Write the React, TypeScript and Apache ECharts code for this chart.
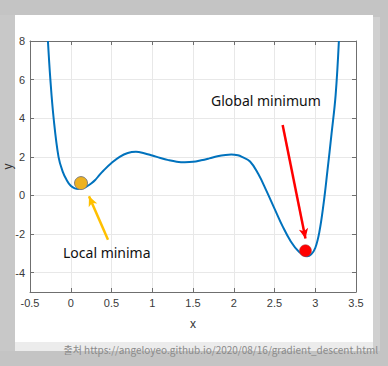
import React, { useEffect, useRef } from "react";
import * as echarts from "echarts";

// curve
const curveX = [-0.28, -0.25, -0.21, -0.15, -0.1, -0.05, 0.0, 0.05, 0.1, 0.15, 0.2, 0.25, 0.3, 0.35, 0.4, 0.5, 0.6, 0.7, 0.8, 0.9, 1.0, 1.1, 1.2, 1.3, 1.4, 1.5, 1.6, 1.7, 1.8, 1.9, 1.97, 2.05, 2.1, 2.2, 2.3, 2.4, 2.5, 2.6, 2.7, 2.8, 2.9, 2.95, 3.0, 3.05, 3.1, 3.15, 3.2, 3.25, 3.29];
const curveY = [8.0, 6.0, 4.0, 2.0, 1.25, 0.8, 0.5, 0.37, 0.34, 0.38, 0.48, 0.62, 0.8, 1.05, 1.28, 1.68, 2.0, 2.2, 2.26, 2.19, 2.07, 1.94, 1.83, 1.75, 1.72, 1.74, 1.82, 1.92, 2.03, 2.1, 2.12, 2.08, 2.0, 1.76, 1.12, 0.25, -0.68, -1.6, -2.38, -2.92, -3.15, -3.05, -2.72, -1.9, -0.5, 1.3, 3.2, 5.2, 8.0];

const localMinPoint = [0.126, 0.64];
const globalMinPoint = [2.88, -2.86];

const localArrow = [[0.457, -2.3], [0.224, -0.04]];
const globalArrow = [[2.6, 3.65], [2.88, -2.23]];

const localLabel = "Local minima";
const globalLabel = "Global minimum";
const xName = "x";
const yName = "y";
const caption = "출처 https://angeloyeo.github.io/2020/08/16/gradient_descent.html";

const X_MIN = -0.5, X_MAX = 3.5, X_STEP = 0.5;
const Y_MIN = -4, Y_MAX = 8, Y_STEP = 2;

export default function App() {
  const ref = useRef<HTMLDivElement>(null);
  useEffect(() => {
    if (!ref.current) return;
    const chart = echarts.init(ref.current, null, { renderer: "svg" });
    const axisColor = "#6f6f6f";
    const labelStyle = { color: "#3a3a3a", fontSize: 11, fontFamily: "Liberation Sans" };
    const commonX = {
      type: "value" as const,
      min: X_MIN,
      max: X_MAX,
      interval: X_STEP,
      axisLine: { show: true, onZero: false, lineStyle: { color: axisColor, width: 1 } },
      axisTick: { show: true, inside: true, length: 4, lineStyle: { color: axisColor } },
    };
    const yTickVals: number[] = [];
    for (let v = Y_MIN; v <= Y_MAX; v += Y_STEP) yTickVals.push(v);
    const commonY = {
      type: "value" as const,
      min: -5,
      max: Y_MAX,
      interval: 1,
      axisLine: { show: true, onZero: false, lineStyle: { color: axisColor, width: 1 } },
      axisTick: { show: true, inside: true, length: 4, lineStyle: { color: axisColor }, customValues: yTickVals },
    };
    chart.setOption({
      animation: false,
      backgroundColor: "#c4c4c4",
      graphic: [
        { type: "rect", shape: { x: 0, y: 15, width: 15, height: 336 }, style: { fill: "#c8c8c8" }, z: -10 },
        { type: "rect", shape: { x: 373, y: 17, width: 7, height: 334 }, style: { fill: "#d0d0d0" }, z: -10 },
        { type: "rect", shape: { x: 15, y: 342, width: 358, height: 9 }, style: { fill: "#ececec" }, z: -10 },
        { type: "rect", shape: { x: 15, y: 15, width: 358, height: 327 }, style: { fill: "#ffffff" }, z: -10 },
        {
          type: "text", left: 63, top: 245,
          style: { text: localLabel, fontSize: 14, fontFamily: "Noto Sans", fill: "#111" }, z: 10,
        },
        {
          type: "text", left: 211, top: 93,
          style: { text: globalLabel, fontSize: 14, fontFamily: "Noto Sans", fill: "#111" }, z: 10,
        },
        {
          type: "text", right: 10, top: 344,
          style: { text: caption, fontSize: 10, fontFamily: "Noto Sans CJK KR", fill: "#8a8a8a" }, z: 10,
        },
      ],
      grid: { left: 30, top: 41, width: 326, height: 251, containLabel: false, outerBoundsMode: "none" },
      xAxis: [
        {
          ...commonX,
          position: "bottom",
          name: xName,
          nameLocation: "middle",
          nameGap: 26,
          nameMoveOverlap: false,
          nameTextStyle: { color: "#333", fontSize: 12, fontFamily: "Liberation Sans" },
          axisLabel: { ...labelStyle, margin: 5 },
          splitLine: { show: true, lineStyle: { color: "#e8e8e8", width: 1 } },
        },
        {
          ...commonX,
          position: "top",
          axisLabel: { show: false },
          splitLine: { show: false },
        },
      ],
      yAxis: [
        {
          ...commonY,
          position: "left",
          name: yName,
          nameLocation: "middle",
          nameGap: 16,
          nameMoveOverlap: false,
          nameRotate: 90,
          nameTextStyle: { color: "#333", fontSize: 12, fontFamily: "Liberation Sans" },
          axisLabel: { ...labelStyle, margin: 5, customValues: yTickVals },
          splitLine: { show: true, lineStyle: { color: "#e8e8e8", width: 1 } },
        },
        {
          ...commonY,
          position: "right",
          axisLabel: { show: false },
          splitLine: { show: false },
        },
      ],
      series: [
        {
          type: "line",
          data: curveX.map((x, i) => [x, curveY[i]]),
          smooth: 0.4,
          showSymbol: false,
          lineStyle: { color: "#0072BD", width: 2 },
          clip: true,
          z: 3,
        },
        {
          type: "scatter",
          data: [localMinPoint],
          symbolSize: 13,
          itemStyle: { color: "#EDB120", borderColor: "#7f7f7f", borderWidth: 1, opacity: 1 },
          z: 5,
        },
        {
          type: "scatter",
          data: [globalMinPoint],
          symbolSize: 12,
          itemStyle: { color: "#FF0000", borderColor: "#a04040", borderWidth: 0.5, opacity: 1 },
          z: 5,
        },
        {
          type: "line",
          data: [],
          markLine: {
            silent: true,
            symbol: ["none", "arrow"],
            symbolSize: [7, 10],
            label: { show: false },
            lineStyle: { type: "solid", width: 2.5 },
            data: [
              [
                { coord: localArrow[0], lineStyle: { color: "#FFC000", width: 2.5, type: "solid" } },
                { coord: localArrow[1] },
              ],
              [
                { coord: globalArrow[0], lineStyle: { color: "#FF0000", width: 2.5, type: "solid" } },
                { coord: globalArrow[1] },
              ],
            ],
          },
          z: 6,
        },
      ],
    });
    return () => chart.dispose();
  }, []);
  return (
    <div
      ref={ref}
      style={{ position: "fixed", left: 0, top: 0, width: 388, height: 366 }}
    />
  );
}
